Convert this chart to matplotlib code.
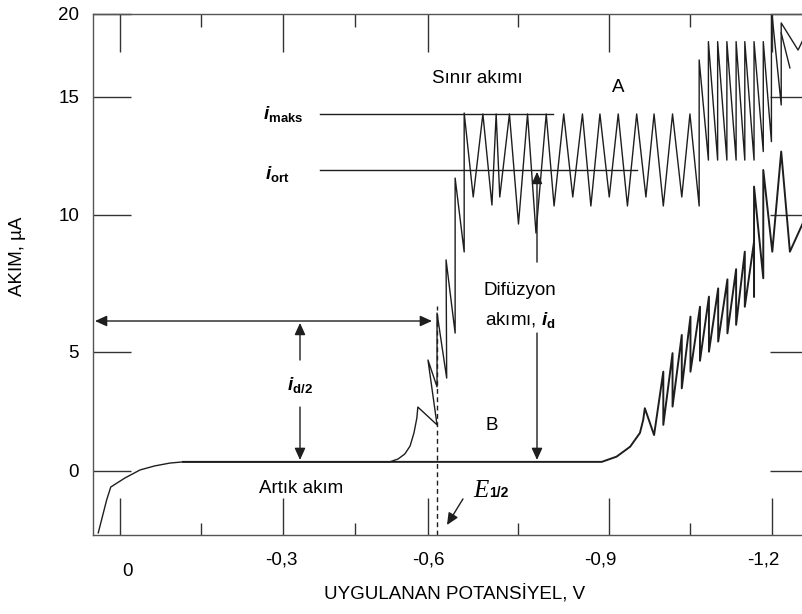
import numpy as np
import matplotlib
matplotlib.use("Agg")
import matplotlib.pyplot as plt
from matplotlib.transforms import ScaledTranslation

# ---------------- data ----------------
x_ticks = [0.0, -0.3, -0.6, -0.9, -1.2]
x_ticklabels = ["0", "-0,3", "-0,6", "-0,9", "-1,2"]
x_minor = [-0.15, -0.45, -0.75, -1.05]
y_ticks = [0, 5, 10, 15, 20]
y_ticklabels = ["0", "5", "10", "15", "20"]

# curve A (polarogram with reducible species)
a_x = [0.040, 0.0245, 0.017, -0.009, -0.037, -0.064, -0.092, -0.116,
       -0.521, -0.538, -0.552, -0.563, -0.571, -0.577, -0.579,
       -0.615, -0.600, -0.615, -0.615, -0.631, -0.630, -0.645, -0.645, -0.660, -0.660,
       -0.675, -0.691, -0.706, -0.713, -0.719, -0.735, -0.750, -0.765, -0.779, -0.796,
       -0.809, -0.825, -0.840, -0.856, -0.870, -0.885, -0.9005, -0.917, -0.934, -0.951,
       -0.968, -0.983, -1.000, -1.017, -1.034, -1.049, -1.066,
       -1.066, -1.083, -1.083, -1.100, -1.100, -1.117, -1.117, -1.134, -1.134, -1.150, -1.150,
       -1.167, -1.167, -1.184, -1.184, -1.199, -1.199, -1.217, -1.217, -1.248, -1.257]
a_y = [-2.62, -1.23, -0.69, -0.31, 0.03, 0.20, 0.32, 0.37,
       0.37, 0.49, 0.70, 1.04, 1.59, 2.22, 2.68,
       1.93, 4.66, 3.53, 6.42, 3.90, 8.36, 5.69, 11.56, 8.65, 14.31,
       10.76, 14.27, 10.42, 14.27, 10.76, 14.27, 9.67, 14.27, 9.34, 14.27,
       10.38, 14.27, 10.76, 14.27, 10.38, 14.27, 10.76, 14.27, 10.38, 14.27,
       10.76, 14.27, 10.38, 14.27, 10.76, 14.27, 10.38,
       17.22, 12.32, 18.33, 12.32, 18.33, 12.32, 18.33, 12.32, 18.33, 12.32, 18.33,
       12.32, 18.33, 12.68, 18.33, 13.10, 20.3, 14.65, 19.46, 17.82, 18.43]
a2_x = [-1.217, -1.233]
a2_y = [18.85, 16.74]

# curve B (supporting electrolyte only)
b_x = [-0.116, -0.888, -0.914, -0.939, -0.957, -0.963, -0.966,
       -0.983, -1.000, -1.000, -1.017, -1.017, -1.034, -1.034, -1.050, -1.050,
       -1.0675, -1.0675, -1.084, -1.084, -1.101, -1.101, -1.118, -1.118, -1.134, -1.134,
       -1.150, -1.150, -1.167, -1.167, -1.167, -1.184, -1.184, -1.2006, -1.217, -1.233, -1.257]
b_y = [0.37, 0.37, 0.59, 1.01, 1.59, 2.14, 2.63,
       1.50, 4.17, 1.93, 4.95, 2.70, 5.62, 3.47, 6.29, 4.17,
       6.65, 4.63, 7.02, 5.01, 7.32, 5.38, 7.65, 5.68, 8.02, 5.99,
       8.66, 6.65, 9.03, 7.02, 11.20, 7.69, 11.90, 8.66, 12.68, 8.66, 9.71]

i_maks = 14.27
i_ort = 11.90
i_half = 6.13
i_res = 0.45
e_half = -0.615

# ---------------- scale (uneven tick spacing of the original drawing) ----------------
x_anchor_v = [-3.0, -1.2, -0.9, -0.6, -0.3, 0.0, 1.0]
x_anchor_u = [-1630.0, -652.0, -489.0, -308.0, -163.0, 0.0, 543.3]
y_anchor_v = [-100.0, 0.0, 5.0, 10.0, 15.0, 20.0, 100.0]
y_anchor_u = [-2374.0, 0.0, 118.7, 255.7, 374.0, 456.7, 1779.9]


def fx(v):
    return np.interp(np.asarray(v, float), x_anchor_v, x_anchor_u)


def ix(u):
    return np.interp(np.asarray(u, float), x_anchor_u, x_anchor_v)


def fy(v):
    return np.interp(np.asarray(v, float), y_anchor_v, y_anchor_u)


def iy(u):
    return np.interp(np.asarray(u, float), y_anchor_u, y_anchor_v)


plt.rcParams['font.family'] = ['Liberation Sans', 'DejaVu Sans']
plt.rcParams['mathtext.fontset'] = 'custom'
plt.rcParams['mathtext.rm'] = 'Liberation Sans'
plt.rcParams['mathtext.it'] = 'Liberation Sans:italic'
plt.rcParams['mathtext.bf'] = 'Liberation Sans:bold'
plt.rcParams['mathtext.bfit'] = 'Liberation Sans:bold:italic'

FS = 13.5

fig = plt.figure(figsize=(8.03, 6.14), dpi=100)
ax = fig.add_axes([0.1158, 0.1287, 0.8892, 0.8485])
ax.set_xscale('function', functions=(fx, ix))
ax.set_yscale('function', functions=(fy, iy))
ax.set_xlim(0.0497, -1.2645)
ax.set_ylim(-2.71, 20)

LC = '#1e1e1e'
ax.plot(a_x, a_y, color=LC, lw=1.0)
ax.plot(a2_x, a2_y, color=LC, lw=1.0)
ax.plot(b_x, b_y, color=LC, lw=1.4)

# reference lines
ax.plot([-0.3766, -0.8072], [i_maks, i_maks], color=LC, lw=1.0)
ax.plot([-0.3766, -0.9510], [i_ort, i_ort], color=LC, lw=1.0)
ax.plot([e_half, e_half], [-2.71, 6.66], color=LC, lw=1.0, ls=(0, (3.5, 2.5)))

ap = dict(arrowstyle='-|>,head_length=0.55,head_width=0.25', mutation_scale=13,
          color=LC, lw=1.0, shrinkA=0, shrinkB=0)
ap2 = dict(arrowstyle='<|-|>,head_length=0.55,head_width=0.25', mutation_scale=13,
           color=LC, lw=1.0, shrinkA=0, shrinkB=0)
ax.annotate('', xy=(0.046, i_half), xytext=(-0.6066, i_half), arrowprops=ap2)
ax.annotate('', xy=(-0.3352, 6.06), xytext=(-0.3352, 4.66), arrowprops=ap)
ax.annotate('', xy=(-0.3352, i_res), xytext=(-0.3352, 2.68), arrowprops=ap)
ax.annotate('', xy=(-0.7807, 11.82), xytext=(-0.7807, 8.28), arrowprops=ap)
ax.annotate('', xy=(-0.7807, i_res), xytext=(-0.7807, 5.69), arrowprops=ap)
ax.annotate('', xy=(-0.6315, -2.29), xytext=(-0.658, -1.19), arrowprops=ap)

# texts
ax.text(-0.3414, 14.27, r'$\mathbfit{i}_{\mathbf{maks}}$', fontsize=13.5, ha='right', va='center')
ax.text(-0.3145, 11.75, r'$\mathbfit{i}_{\mathbf{ort}}$', fontsize=13.5, ha='right', va='center')
ax.text(-0.3352, 3.61, r'$\mathbfit{i}_{\mathbf{d/2}}$', fontsize=13.5, ha='center', va='center')
ax.text(-0.6812, 16.13, 'Sınır akımı', fontsize=FS, ha='center', va='center')
ax.text(-0.9166, 15.53, 'A', fontsize=FS, ha='center', va='center')
ax.text(-0.7061, 1.92, 'B', fontsize=FS, ha='center', va='center')
ax.text(-0.6928, 7.24, 'Difüzyon', fontsize=FS, ha='left', va='center')
ax.text(-0.6945, 6.17, r'akımı, $\mathbfit{i}_{\mathbf{d}}$', fontsize=FS, ha='left', va='center')
ax.text(-0.3372, -0.77, 'Artık akım', fontsize=FS, ha='center', va='center')
ax.text(-0.7011, -1.11, 'E', fontsize=18, ha='right', va='baseline',
        family='Liberation Serif', style='italic')
ax.text(-0.7011, -1.11, '1/2', fontsize=10, ha='left', va='baseline', weight='bold')

# ticks
ax.set_xticks(x_ticks)
ax.set_xticklabels(x_ticklabels)
ax.set_xticks(x_minor, minor=True)
ax.set_yticks(y_ticks)
ax.set_yticklabels(y_ticklabels)
ax.yaxis.set_minor_locator(matplotlib.ticker.NullLocator())
ax.tick_params(which='both', direction='in', top=True, right=True, color='#333333', width=1.0)
ax.tick_params(which='major', length=27)
ax.tick_params(which='minor', length=9)
ax.tick_params(axis='x', which='major', pad=12, labelsize=FS)
ax.tick_params(axis='y', which='major', pad=10, labelsize=FS)

xlab_dx = [8, -2, 0, -9, -9]
xlab_dy = [-11, 0, 0, 0, 0]
for lbl, dx, dy in zip(ax.get_xticklabels(), xlab_dx, xlab_dy):
    lbl.set_transform(lbl.get_transform() +
                      ScaledTranslation(dx / 100, dy / 100, fig.dpi_scale_trans))

for s in ['left', 'top', 'bottom', 'right']:
    ax.spines[s].set_color('#555555')
    ax.spines[s].set_linewidth(1.0)
ax.spines['right'].set_visible(False)

fig.text(455 / 803, 1 - 593 / 614, 'UYGULANAN POTANSİYEL, V', fontsize=FS,
         ha='center', va='center')
fig.text(17 / 803, 1 - 256 / 614, 'AKIM, µA', fontsize=FS, rotation=90,
         ha='center', va='center')

fig.savefig('out.png', dpi=100)
